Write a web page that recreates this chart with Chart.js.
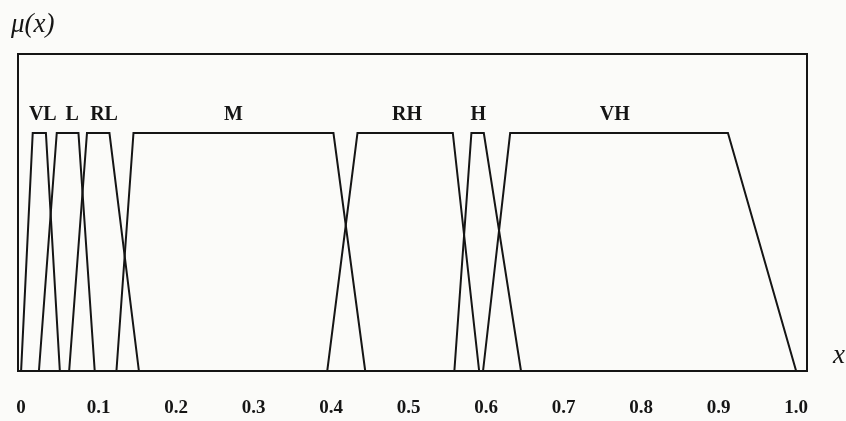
<!DOCTYPE html>
<html>
<head>
<meta charset="utf-8">
<script src="https://cdn.jsdelivr.net/npm/chart.js@4"></script>
<style>
  html, body { margin: 0; padding: 0; background: #fbfbf9; }
  #wrap { width: 846px; height: 421px; }
</style>
</head>
<body>
<div id="wrap"><canvas id="mf"></canvas></div>
<script>
// fuzzy sets and the breakpoints of their trapezoids (a, b, c, d)
const setNames = ['VL', 'L', 'RL', 'M', 'RH', 'H', 'VH'];
const vl = [0, 0.015, 0.032, 0.05];
const l  = [0.023, 0.046, 0.074, 0.095];
const rl = [0.062, 0.085, 0.114, 0.152];
const m  = [0.123, 0.145, 0.403, 0.444];
const rh = [0.395, 0.434, 0.557, 0.591];
const h  = [0.559, 0.581, 0.597, 0.645];
const vh = [0.596, 0.631, 0.912, 1.0];
const membership = [0, 1, 1, 0];
const xTicks = [0, 0.1, 0.2, 0.3, 0.4, 0.5, 0.6, 0.7, 0.8, 0.9, 1.0];
// where the set names sit (x in data units)
const nameX = [0.028, 0.066, 0.107, 0.274, 0.498, 0.59, 0.766];
const nameY = 1.077;

const sets = [vl, l, rl, m, rh, h, vh];

const datasets = sets.map(function (bp, i) {
  return {
    label: setNames[i],
    data: bp.map(function (x, k) { return { x: x, y: membership[k] }; }),
    borderColor: '#151515',
    borderWidth: 2,
    pointRadius: 0,
    tension: 0,
    fill: false
  };
});

const boxAndText = {
  id: 'boxAndText',
  afterDatasetsDraw(chart) {
    const c = chart.ctx;
    const a = chart.chartArea;
    const xs = chart.scales.x;
    const ys = chart.scales.y;
    c.save();
    c.strokeStyle = '#151515';
    c.lineWidth = 2;
    c.strokeRect(a.left, a.top, a.right - a.left, a.bottom - a.top);

    c.fillStyle = '#151515';
    c.font = 'bold 20px "Liberation Serif"';
    c.textAlign = 'center';
    c.textBaseline = 'middle';
    setNames.forEach(function (n, i) {
      c.fillText(n, xs.getPixelForValue(nameX[i]), ys.getPixelForValue(nameY));
    });

    c.font = 'italic 27px "Liberation Serif"';
    c.textAlign = 'left';
    c.fillText('\u03bc(x)', 11, 25);
    c.fillText('x', 833, 356);
    c.restore();
  }
};

new Chart(document.getElementById('mf'), {
  type: 'line',
  data: { datasets: datasets },
  options: {
    responsive: true,
    maintainAspectRatio: false,
    animation: false,
    layout: {
      padding: { top: 54, left: 18, right: 39, bottom: 3 }
    },
    plugins: {
      legend: { display: false },
      tooltip: { enabled: false }
    },
    scales: {
      x: {
        type: 'linear',
        min: -0.004,
        max: 1.014,
        afterBuildTicks: function (axis) {
          axis.ticks = xTicks.map(function (v) { return { value: v }; });
        },
        afterFit: function (axis) {
          axis.height = 47;
          axis.paddingLeft = 0;
          axis.paddingRight = 0;
        },
        grid: { display: false, drawTicks: false },
        border: { display: false },
        ticks: {
          padding: 26,
          color: '#151515',
          font: { family: 'Liberation Serif', size: 19, weight: 'bold' },
          callback: function (v) { return v === 0 ? '0' : v.toFixed(1); }
        }
      },
      y: {
        display: false,
        min: 0,
        max: 1.332
      }
    }
  },
  plugins: [boxAndText]
});
</script>
</body>
</html>
